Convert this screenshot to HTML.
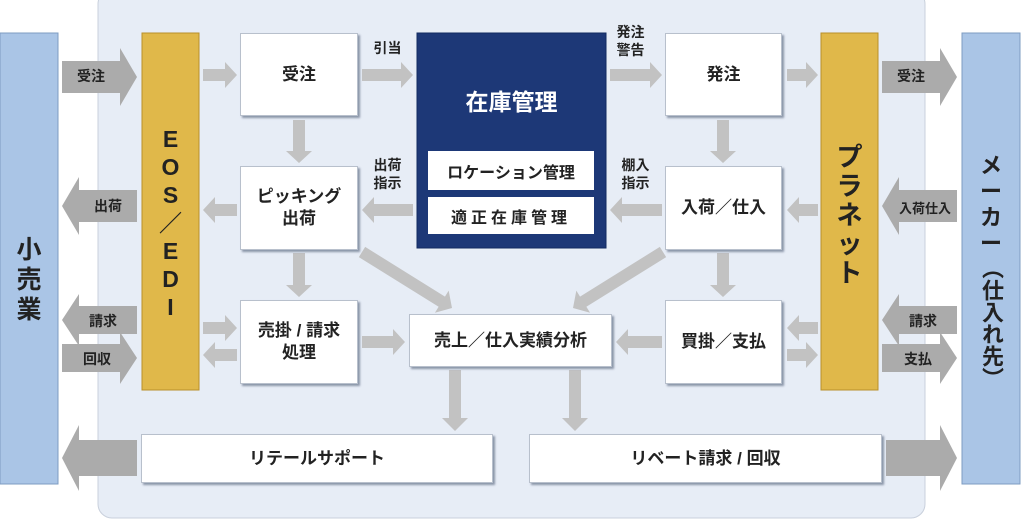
<!DOCTYPE html>
<html><head><meta charset="utf-8"><style>
*{margin:0;padding:0;box-sizing:border-box}
body{width:1024px;height:519px;overflow:hidden;background:#fff;position:relative;font-family:"Liberation Sans","Noto Sans CJK JP",sans-serif;color:#222}
svg{position:absolute;left:0;top:0}
.t{position:absolute;font-weight:bold;text-align:center;white-space:nowrap}
.box{position:absolute;background:#fff;border:1px solid #b8c0cc;box-shadow:2px 2px 2px #8a95a8;display:flex;align-items:center;justify-content:center;text-align:center;font-weight:bold;font-size:17px;line-height:22px;color:#222}
.v{position:absolute;display:flex;flex-direction:column;align-items:center;font-weight:bold}
</style></head><body>
<svg width="1024" height="519">
<rect x="98" y="-10" width="827" height="528" rx="14" fill="#e7edf6" stroke="#c9d0dc"/>
<rect x="0" y="33" width="58" height="451" fill="#aac5e6" stroke="#7e9cc2"/>
<rect x="962" y="33" width="58" height="451" fill="#aac5e6" stroke="#7e9cc2"/>
<rect x="142" y="33" width="57" height="357" fill="#e0b84a" stroke="#b8902a"/>
<rect x="821" y="33" width="57" height="357" fill="#e0b84a" stroke="#b8902a"/>
<rect x="417" y="33" width="189" height="215" fill="#1d3877" stroke="#122a60"/>
<rect x="428" y="151" width="166" height="39" fill="#fff"/>
<rect x="428" y="197" width="166" height="37" fill="#fff"/>
<g fill="#ababab">
<polygon points="62,61 120,61 120,48 137,77 120,106 120,93 62,93"/>
<polygon points="137,190 79,190 79,177 62,206 79,235 79,222 137,222"/>
<polygon points="137,306 79,306 79,294 62,320 79,346 79,334 137,334"/>
<polygon points="62,344 120,344 120,332 137,358 120,384 120,372 62,372"/>
<polygon points="137,440 79,440 79,425 62,458 79,491 79,476 137,476"/>
<polygon points="882,61 940,61 940,48 957,77 940,106 940,93 882,93"/>
<polygon points="957,190 899,190 899,177 882,206 899,235 899,222 957,222"/>
<polygon points="957,306 899,306 899,294 882,320 899,346 899,334 957,334"/>
<polygon points="882,344 940,344 940,332 957,358 940,384 940,372 882,372"/>
<polygon points="886,440 940,440 940,425 957,458 940,491 940,476 886,476"/>
</g>
<g fill="#c2c2c2">
<polygon points="203,69 225,69 225,62 237,75 225,88 225,81 203,81"/>
<polygon points="362,69 401,69 401,62 413,75 401,88 401,81 362,81"/>
<polygon points="610,69 650,69 650,62 662,75 650,88 650,81 610,81"/>
<polygon points="787,69 806,69 806,62 818,75 806,88 806,81 787,81"/>
<polygon points="237,204 215,204 215,197 203,210 215,223 215,216 237,216"/>
<polygon points="413,204 374,204 374,197 362,210 374,223 374,216 413,216"/>
<polygon points="662,204 622,204 622,197 610,210 622,223 622,216 662,216"/>
<polygon points="818,204 799,204 799,197 787,210 799,223 799,216 818,216"/>
<polygon points="293,120 293,151 286,151 299,163 312,151 305,151 305,120"/>
<polygon points="293,253 293,285 286,285 299,297 312,285 305,285 305,253"/>
<polygon points="717,120 717,151 710,151 723,163 736,151 729,151 729,120"/>
<polygon points="717,253 717,285 710,285 723,297 736,285 729,285 729,253"/>
<polygon points="362,336 393,336 393,329 405,342 393,355 393,348 362,348"/>
<polygon points="662,336 628,336 628,329 616,342 628,355 628,348 662,348"/>
<polygon points="203,322 225,322 225,315 237,328 225,341 225,334 203,334"/>
<polygon points="237,349 215,349 215,342 203,355 215,368 215,361 237,361"/>
<polygon points="818,322 799,322 799,315 787,328 799,341 799,334 818,334"/>
<polygon points="787,349 806,349 806,342 818,355 806,368 806,361 787,361"/>
<polygon points="449,370 449,418 442,418 455,431 468,418 461,418 461,370"/>
<polygon points="569,370 569,418 562,418 575,431 588,418 581,418 581,370"/>
<polygon transform="translate(362,252) rotate(31.9)" points="0,-6 94,-6 94,-13 106,0 94,13 94,6 0,6"/>
<polygon transform="translate(663,252) rotate(148.1)" points="0,-6 94,-6 94,-13 106,0 94,13 94,6 0,6"/>
</g>
</svg>
<div class="box" style="left:240px;top:33px;width:118px;height:83px">受注</div>
<div class="box" style="left:665px;top:33px;width:117px;height:83px">発注</div>
<div class="box" style="left:240px;top:166px;width:118px;height:84px">ピッキング<br>出荷</div>
<div class="box" style="left:665px;top:166px;width:117px;height:84px">入荷／仕入</div>
<div class="box" style="left:240px;top:300px;width:118px;height:84px">売掛 / 請求<br>処理</div>
<div class="box" style="left:409px;top:314px;width:203px;height:53px">売上／仕入実績分析</div>
<div class="box" style="left:665px;top:300px;width:117px;height:84px">買掛／支払</div>
<div class="box" style="left:141px;top:434px;width:352px;height:49px">リテールサポート</div>
<div class="box" style="left:529px;top:434px;width:353px;height:49px">リベート請求 / 回収</div>
<div class="t" style="left:417px;top:83px;width:189px;font-size:23px;color:#fff">在庫管理</div>
<div class="t" style="left:428px;top:159px;width:166px;font-size:16px">ロケーション管理</div>
<div class="t" style="left:428px;top:204px;width:166px;font-size:16px;letter-spacing:4px">適正在庫管理</div>
<div class="t" style="left:62px;top:66px;width:58px;font-size:14px">受注</div>
<div class="t" style="left:79px;top:196px;width:58px;font-size:14px">出荷</div>
<div class="t" style="left:78px;top:311px;width:50px;font-size:14px">請求</div>
<div class="t" style="left:72px;top:349px;width:50px;font-size:14px">回収</div>
<div class="t" style="left:882px;top:66px;width:58px;font-size:14px">受注</div>
<div class="t" style="left:893px;top:198px;width:64px;font-size:13px">入荷仕入</div>
<div class="t" style="left:898px;top:311px;width:50px;font-size:14px">請求</div>
<div class="t" style="left:893px;top:349px;width:50px;font-size:14px">支払</div>
<div class="t" style="left:362px;top:40px;width:51px;font-size:14px;line-height:17px">引当</div>
<div class="t" style="left:362px;top:156px;width:51px;font-size:14px;line-height:18px">出荷<br>指示</div>
<div class="t" style="left:605px;top:23px;width:51px;font-size:14px;line-height:18px">発注<br>警告</div>
<div class="t" style="left:610px;top:156px;width:51px;font-size:14px;line-height:18px">棚入<br>指示</div>
<div class="v" style="left:0;top:235px;width:58px;font-size:25px;line-height:30px">小<span>売</span><span>業</span></div>
<div class="v" style="left:142px;top:125px;width:57px;font-size:23px;line-height:28px"><span>E</span><span>O</span><span>S</span><span>／</span><span>E</span><span>D</span><span>I</span></div>
<div class="v" style="left:821px;top:143px;width:57px;font-size:26px;line-height:29px"><span>プ</span><span>ラ</span><span>ネ</span><span>ッ</span><span>ト</span></div>
<div class="v" style="left:962px;top:153px;width:58px;font-size:22px;line-height:26px"><span>メ</span><span>ー</span><span>カ</span><span>ー</span><span style="writing-mode:vertical-rl">（仕入れ先）</span></div>
</body></html>
